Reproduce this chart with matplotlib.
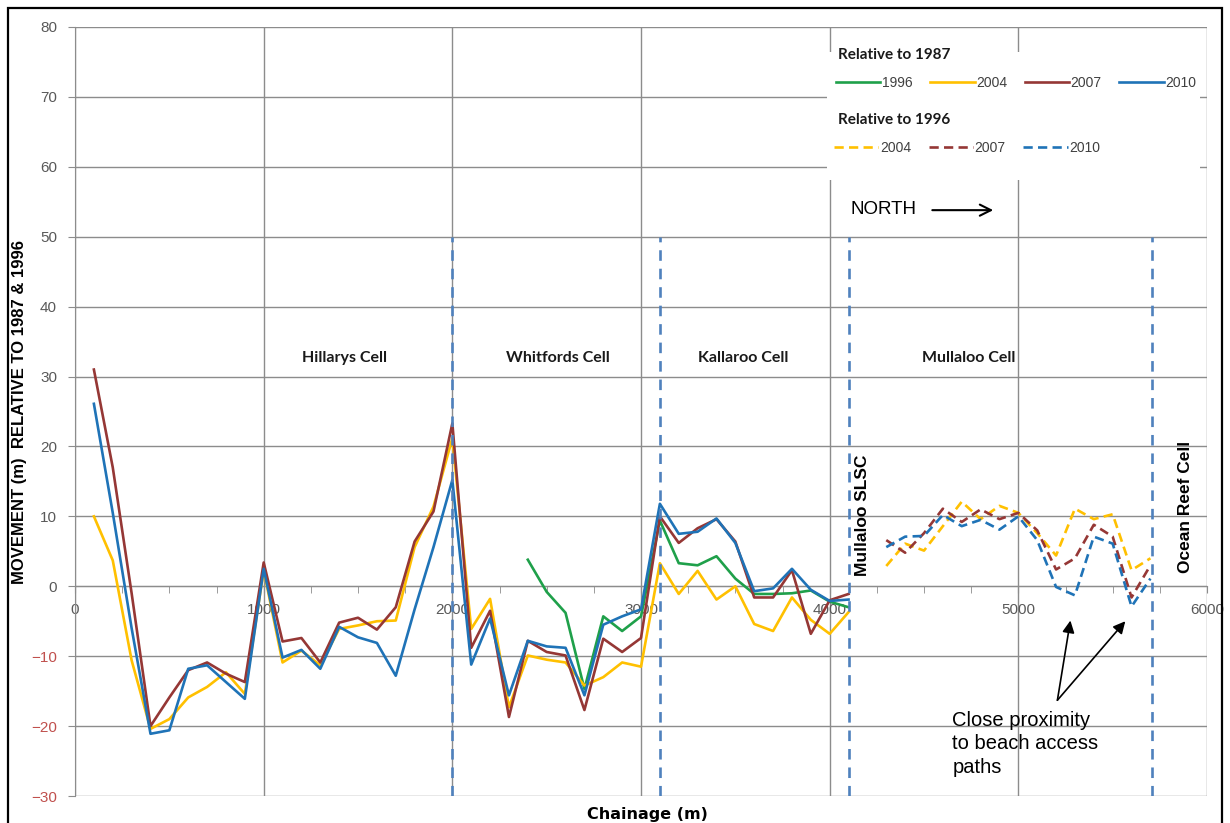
import matplotlib
matplotlib.use("Agg")
import matplotlib.pyplot as plt
from matplotlib.lines import Line2D
from matplotlib.patches import Rectangle

# chainage (m) for each profile line
chain_1987 = list(range(100, 4200, 100))
chain_1996 = list(range(2400, 4200, 100))
chain_mull = list(range(4300, 5800, 100))

# movement relative to 1987 (m)
rel87_2004 = [10.0, 3.7, -10.6, -20.4, -19.0, -15.9, -14.4, -12.3, -15.4, 2.3,
              -10.9, -9.2, -11.3, -6.1, -5.6, -5.0, -4.9, 5.6, 11.4, 21.2,
              -6.1, -1.8, -17.3, -9.9, -10.5, -10.9, -14.2, -13.0, -10.9, -11.5,
              3.3, -1.1, 2.2, -1.9, 0.0, -5.4, -6.4, -1.6, -4.8, -6.8, -3.7]
rel87_2007 = [31.0, 17.0, -1.0, -20.0, -15.9, -12.0, -10.9, -12.5, -13.7, 3.4,
              -7.9, -7.4, -10.9, -5.2, -4.5, -6.2, -3.0, 6.4, 10.7, 23.3,
              -8.8, -3.5, -18.7, -7.8, -9.4, -9.9, -17.7, -7.5, -9.4, -7.4,
              10.0, 6.2, 8.3, 9.6, 6.4, -1.6, -1.6, 2.3, -6.8, -2.0, -1.1]
rel87_2010 = [26.1, 10.5, -6.0, -21.1, -20.6, -11.8, -11.3, -13.7, -16.1, 2.5,
              -10.2, -9.1, -11.8, -5.8, -7.3, -8.1, -12.8, -3.3, 5.6, 15.2,
              -11.2, -4.6, -15.6, -7.8, -8.6, -8.8, -15.6, -5.5, -4.3, -3.3,
              11.8, 7.5, 7.8, 9.7, 6.2, -0.7, -0.3, 2.5, -0.5, -2.1, -1.9]
rel87_1996 = [3.8, -0.8, -3.8, -14.7, -4.3, -6.4, -4.3, 9.4, 3.3, 3.0,
              4.3, 1.1, -1.1, -1.1, -1.0, -0.6, -2.2, -3.0]

# movement relative to 1996 (m), Mullaloo
rel96_2004 = [2.9, 6.1, 5.1, 8.6, 12.1, 9.6, 11.5, 10.5, 7.6, 4.4, 11.1, 9.6, 10.3, 2.3, 4.0]
rel96_2007 = [6.6, 4.8, 7.6, 11.1, 9.2, 11.0, 9.6, 10.5, 8.0, 2.4, 4.0, 8.8, 7.1, -1.6, 3.0]
rel96_2010 = [5.6, 7.1, 7.2, 10.2, 8.6, 9.5, 8.1, 10.0, 6.6, -0.1, -1.3, 7.1, 6.1, -2.9, 1.1]

cell_bounds = [2000, 3100, 4100, 5710]
cell_names = ["Hillarys Cell", "Whitfords Cell", "Kallaroo Cell", "Mullaloo Cell"]
cell_name_x = [1430, 2560, 3540, 4735]

GREEN = "#1FA04A"
YELLOW = "#FFC000"
RED = "#953735"
BLUE = "#1F73B7"
GRID = "#8C8C8C"

fig = plt.figure(figsize=(12.3, 8.23), dpi=100)
ax = fig.add_axes([0.061, 0.0328, 0.9203, 0.9344])

ax.set_xlim(0, 6000)
ax.set_ylim(-30, 80)
ax.set_xticks(range(0, 6001, 1000))
ax.set_xticks(range(0, 6001, 250), minor=True)
ax.set_yticks(range(-30, 81, 10))
ax.set_axisbelow(True)
ax.grid(True, which="major", color=GRID, lw=1)

for s in ["top", "right"]:
    ax.spines[s].set_visible(False)
ax.spines["left"].set_color(GRID)
ax.spines["bottom"].set_position(("data", 0))
ax.spines["bottom"].set_color(GRID)

ax.tick_params(axis="x", which="both", direction="out", length=5, color=GRID,
               labelsize=11, labelcolor="#595959", pad=7)
ax.tick_params(axis="y", direction="out", length=5, color=GRID,
               labelsize=11, pad=8)
for lab in ax.get_xticklabels() + ax.get_yticklabels():
    lab.set_fontfamily("Liberation Sans")
for val, lab in zip(ax.get_yticks(), ax.get_yticklabels()):
    lab.set_color("#C0504D" if val < 0 else "#595959")

# white box behind the legend
ax.add_patch(Rectangle((0.664, 0.801), 0.33, 0.167, transform=ax.transAxes,
                       facecolor="white", edgecolor="none", zorder=1))

lw = 1.9
ax.plot(chain_1996, rel87_1996, color=GREEN, lw=lw, zorder=3)
ax.plot(chain_1987, rel87_2004, color=YELLOW, lw=lw, zorder=3)
ax.plot(chain_1987, rel87_2007, color=RED, lw=lw, zorder=4)
ax.plot(chain_1987, rel87_2010, color=BLUE, lw=lw, zorder=5)

dash = (3.5, 2)
ax.plot(chain_mull, rel96_2004, color=YELLOW, lw=lw, dashes=dash, zorder=3)
ax.plot(chain_mull, rel96_2007, color=RED, lw=lw, dashes=dash, zorder=4)
ax.plot(chain_mull, rel96_2010, color=BLUE, lw=lw, dashes=dash, zorder=5)

# cell boundaries
ax.vlines(cell_bounds, -30, 50, colors="#4F81BD", lw=1.9, linestyles=(0, (4, 3)), zorder=6)

for name, x in zip(cell_names, cell_name_x):
    ax.text(x, 32.6, name, ha="center", va="center", fontsize=11.5,
            fontweight="bold", family="Lato", color="#1A1A1A")
ax.text(4173, 10.2, "Mullaloo SLSC", rotation=90, ha="center", va="center",
        fontsize=12.5, fontweight="bold", family="Liberation Sans")
ax.text(5886, 11.4, "Ocean Reef Cell", rotation=90, ha="center", va="center",
        fontsize=12.5, fontweight="bold", family="Liberation Sans")

ax.text(4109, 53.9, "NORTH", ha="left", va="center", fontsize=13.5,
        family="Liberation Sans")
ax.annotate("", xy=(4867, 53.8), xytext=(4544, 53.8),
            arrowprops=dict(arrowstyle="->", color="black", lw=1.5,
                            mutation_scale=20, shrinkA=0, shrinkB=0))

ax.text(4650, -17.8, "Close proximity\nto beach access\npaths", ha="left", va="top",
        fontsize=14.5, family="Liberation Sans", linespacing=1.3)
for tip in [(5276, -4.9), (5567, -5.0)]:
    ax.annotate("", xy=tip, xytext=(5207, -16.3),
                arrowprops=dict(arrowstyle="-|>", color="black", lw=1.2,
                                mutation_scale=18, shrinkA=0, shrinkB=0))

# two-row legend with its own headings
title_kw = dict(transform=ax.transAxes, ha="left", va="center", fontsize=11,
                fontweight="bold", family="Lato", color="#1A1A1A")
ax.text(0.674, 0.9636, "Relative to 1987", **title_kw)
ax.text(0.674, 0.879, "Relative to 1996", **title_kw)

h87 = [Line2D([], [], color=c, lw=lw) for c in [GREEN, YELLOW, RED, BLUE]]
h96 = [Line2D([], [], color=c, lw=lw, dashes=dash) for c in [YELLOW, RED, BLUE]]
leg_kw = dict(loc="center left", frameon=False, handlelength=3.2, handletextpad=0.1,
              columnspacing=1.27, borderpad=0, borderaxespad=0,
              prop={"family": "Liberation Sans", "size": 10}, labelcolor="#404040")
leg1 = ax.legend(h87, ["1996", "2004", "2007", "2010"], ncol=4,
                 bbox_to_anchor=(0.6723, 0.9272), **leg_kw)
ax.add_artist(leg1)
ax.legend(h96, ["2004", "2007", "2010"], ncol=3,
          bbox_to_anchor=(0.6705, 0.8427), **leg_kw)

fig.text(20 / 1230, 1 - 412 / 823, "MOVEMENT (m)  RELATIVE TO 1987 & 1996",
         rotation=90, ha="center", va="center", fontsize=12, fontweight="bold",
         family="Liberation Sans")
fig.text(647 / 1230, 1 - 814 / 823, "Chainage (m)", ha="center", va="center",
         fontsize=11.5, fontweight="bold", family="DejaVu Sans")

fig.add_artist(Rectangle((8 / 1230, -0.02), 1214 / 1230, 1.02 - 8 / 823,
                         transform=fig.transFigure, fill=False, edgecolor="black", lw=1.6))

fig.savefig("out.png", dpi=100)
